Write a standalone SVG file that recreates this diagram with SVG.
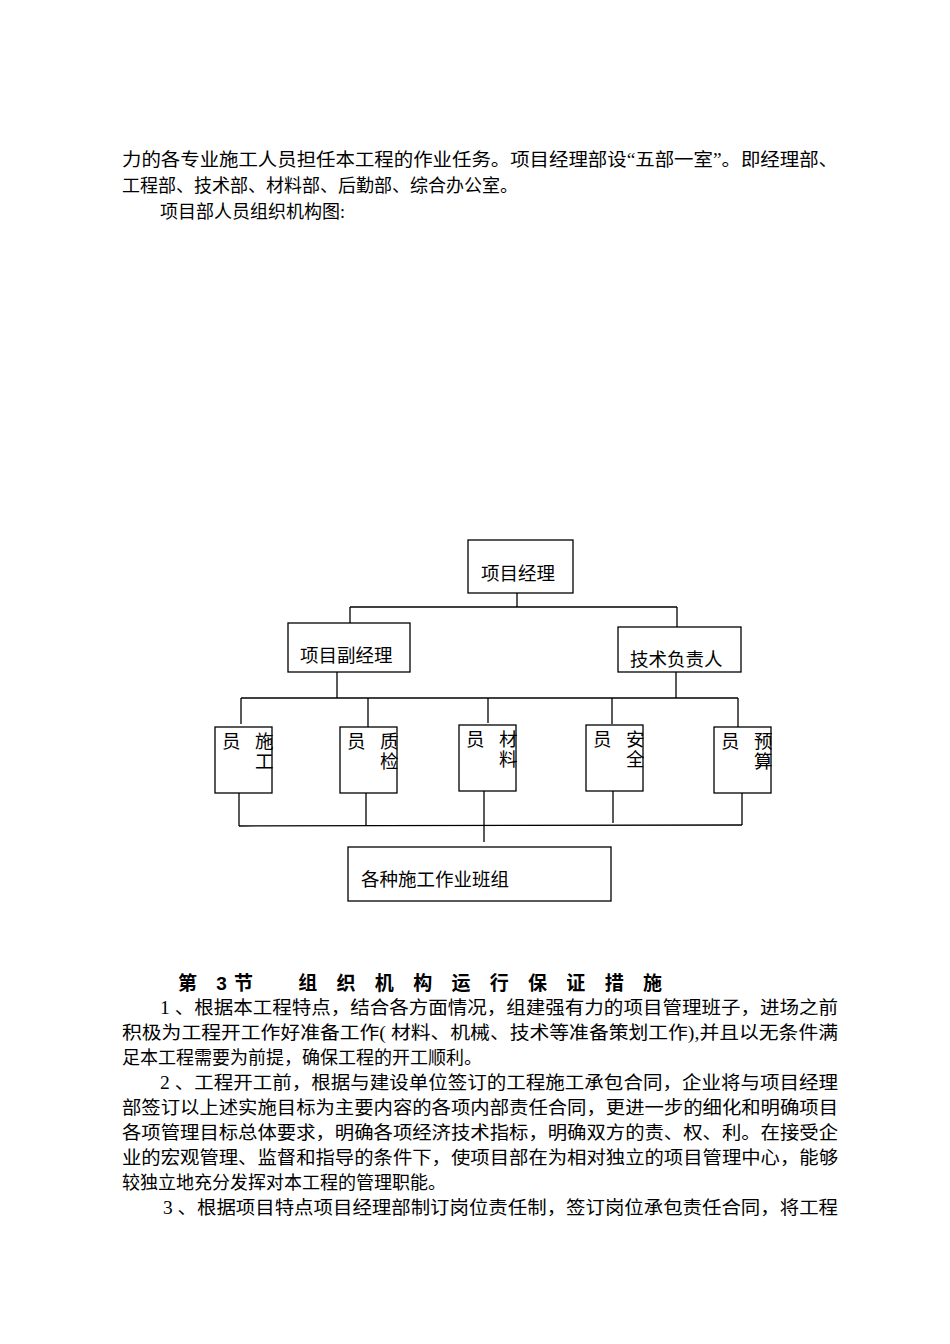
<svg xmlns="http://www.w3.org/2000/svg" width="950" height="1344" viewBox="0 0 950 1344">
<style>
text{font-family:"Liberation Serif","Noto Sans CJK SC",serif;font-size:18px;fill:#000}
.n{font-family:"Liberation Sans","Noto Sans CJK SC",sans-serif;font-size:18.5px}
.b{fill:#fff;stroke:#000;stroke-width:1.3}
.c line{stroke:#000;stroke-width:1.3}
.t{font-family:"Liberation Sans","Noto Sans CJK SC",sans-serif;font-weight:bold;font-size:19px}
</style>
<rect width="950" height="1344" fill="#fff"/>
<text x="122" y="166" textLength="716" lengthAdjust="spacingAndGlyphs">力的各专业施工人员担任本工程的作业任务。项目经理部设“五部一室”。即经理部、</text>
<text x="122" y="192">工程部、技术部、材料部、后勤部、综合办公室。</text>
<text x="160" y="218">项目部人员组织机构图:</text>
<g class="c">
<line x1="517" y1="593" x2="517" y2="607"/>
<line x1="350" y1="607" x2="677" y2="607"/>
<line x1="350" y1="607" x2="350" y2="623"/>
<line x1="677" y1="607" x2="677" y2="627"/>
<line x1="337" y1="672" x2="337" y2="698"/>
<line x1="676" y1="672" x2="676" y2="698"/>
<line x1="241" y1="698" x2="738" y2="698"/>
<line x1="241" y1="698" x2="241" y2="724"/>
<line x1="368" y1="698" x2="368" y2="729"/>
<line x1="488" y1="698" x2="488" y2="723"/>
<line x1="612" y1="698" x2="612" y2="724"/>
<line x1="738" y1="698" x2="738" y2="727"/>
<line x1="239" y1="793" x2="239" y2="826"/>
<line x1="366" y1="793" x2="366" y2="826"/>
<line x1="484" y1="791" x2="484" y2="842"/>
<line x1="613" y1="791" x2="613" y2="823"/>
<line x1="742" y1="791" x2="742" y2="825"/>
<line x1="239" y1="826" x2="742" y2="825"/>
</g>
<g id="pm"><rect class="b" x="468" y="540" width="105" height="53"/><text class="n" x="481" y="580">项目经理</text></g>
<g id="dpm"><rect class="b" x="288" y="623" width="122" height="49"/><text class="n" x="300" y="662">项目副经理</text></g>
<g id="tech"><rect class="b" x="618" y="627" width="123" height="45"/><text class="n" x="630" y="666">技术负责人</text></g>
<g id="n1"><rect class="b" x="215" y="727" width="57" height="66"/><text class="n" x="222" y="748">员</text><text class="n" x="255" y="748">施</text><text class="n" x="255" y="768">工</text></g>
<g id="n2"><rect class="b" x="340" y="727" width="57" height="66"/><text class="n" x="347" y="748">员</text><text class="n" x="380" y="748">质</text><text class="n" x="380" y="768">检</text></g>
<g id="n3"><rect class="b" x="459" y="725" width="57" height="66"/><text class="n" x="466" y="746">员</text><text class="n" x="499" y="746">材</text><text class="n" x="499" y="766">料</text></g>
<g id="n4"><rect class="b" x="586" y="725" width="57" height="66"/><text class="n" x="593" y="746">员</text><text class="n" x="626" y="746">安</text><text class="n" x="626" y="766">全</text></g>
<g id="n5"><rect class="b" x="714" y="727" width="57" height="66"/><text class="n" x="721" y="748">员</text><text class="n" x="754" y="748">预</text><text class="n" x="754" y="768">算</text></g>
<g id="team"><rect class="b" x="348" y="847" width="263" height="54"/><text class="n" x="361" y="886">各种施工作业班组</text></g>
<text class="t" x="178" y="990" textLength="484" lengthAdjust="spacing">第 3节　 组 织 机 构 运 行 保 证 措 施</text>
<text x="160" y="1014" textLength="678" lengthAdjust="spacingAndGlyphs">1 、根据本工程特点，结合各方面情况，组建强有力的项目管理班子，进场之前</text>
<text x="122" y="1039" textLength="716" lengthAdjust="spacingAndGlyphs">积极为工程开工作好准备工作( 材料、机械、技术等准备策划工作),并且以无条件满</text>
<text x="122" y="1064">足本工程需要为前提，确保工程的开工顺利。</text>
<text x="160" y="1089" textLength="678" lengthAdjust="spacingAndGlyphs">2 、工程开工前，根据与建设单位签订的工程施工承包合同，企业将与项目经理</text>
<text x="122" y="1114" textLength="716" lengthAdjust="spacingAndGlyphs">部签订以上述实施目标为主要内容的各项内部责任合同，更进一步的细化和明确项目</text>
<text x="122" y="1139" textLength="716" lengthAdjust="spacingAndGlyphs">各项管理目标总体要求，明确各项经济技术指标，明确双方的责、权、利。在接受企</text>
<text x="122" y="1164" textLength="716" lengthAdjust="spacingAndGlyphs">业的宏观管理、监督和指导的条件下，使项目部在为相对独立的项目管理中心，能够</text>
<text x="122" y="1189">较独立地充分发挥对本工程的管理职能。</text>
<text x="163" y="1214" textLength="675" lengthAdjust="spacingAndGlyphs">3 、根据项目特点项目经理部制订岗位责任制，签订岗位承包责任合同，将工程</text>
</svg>
